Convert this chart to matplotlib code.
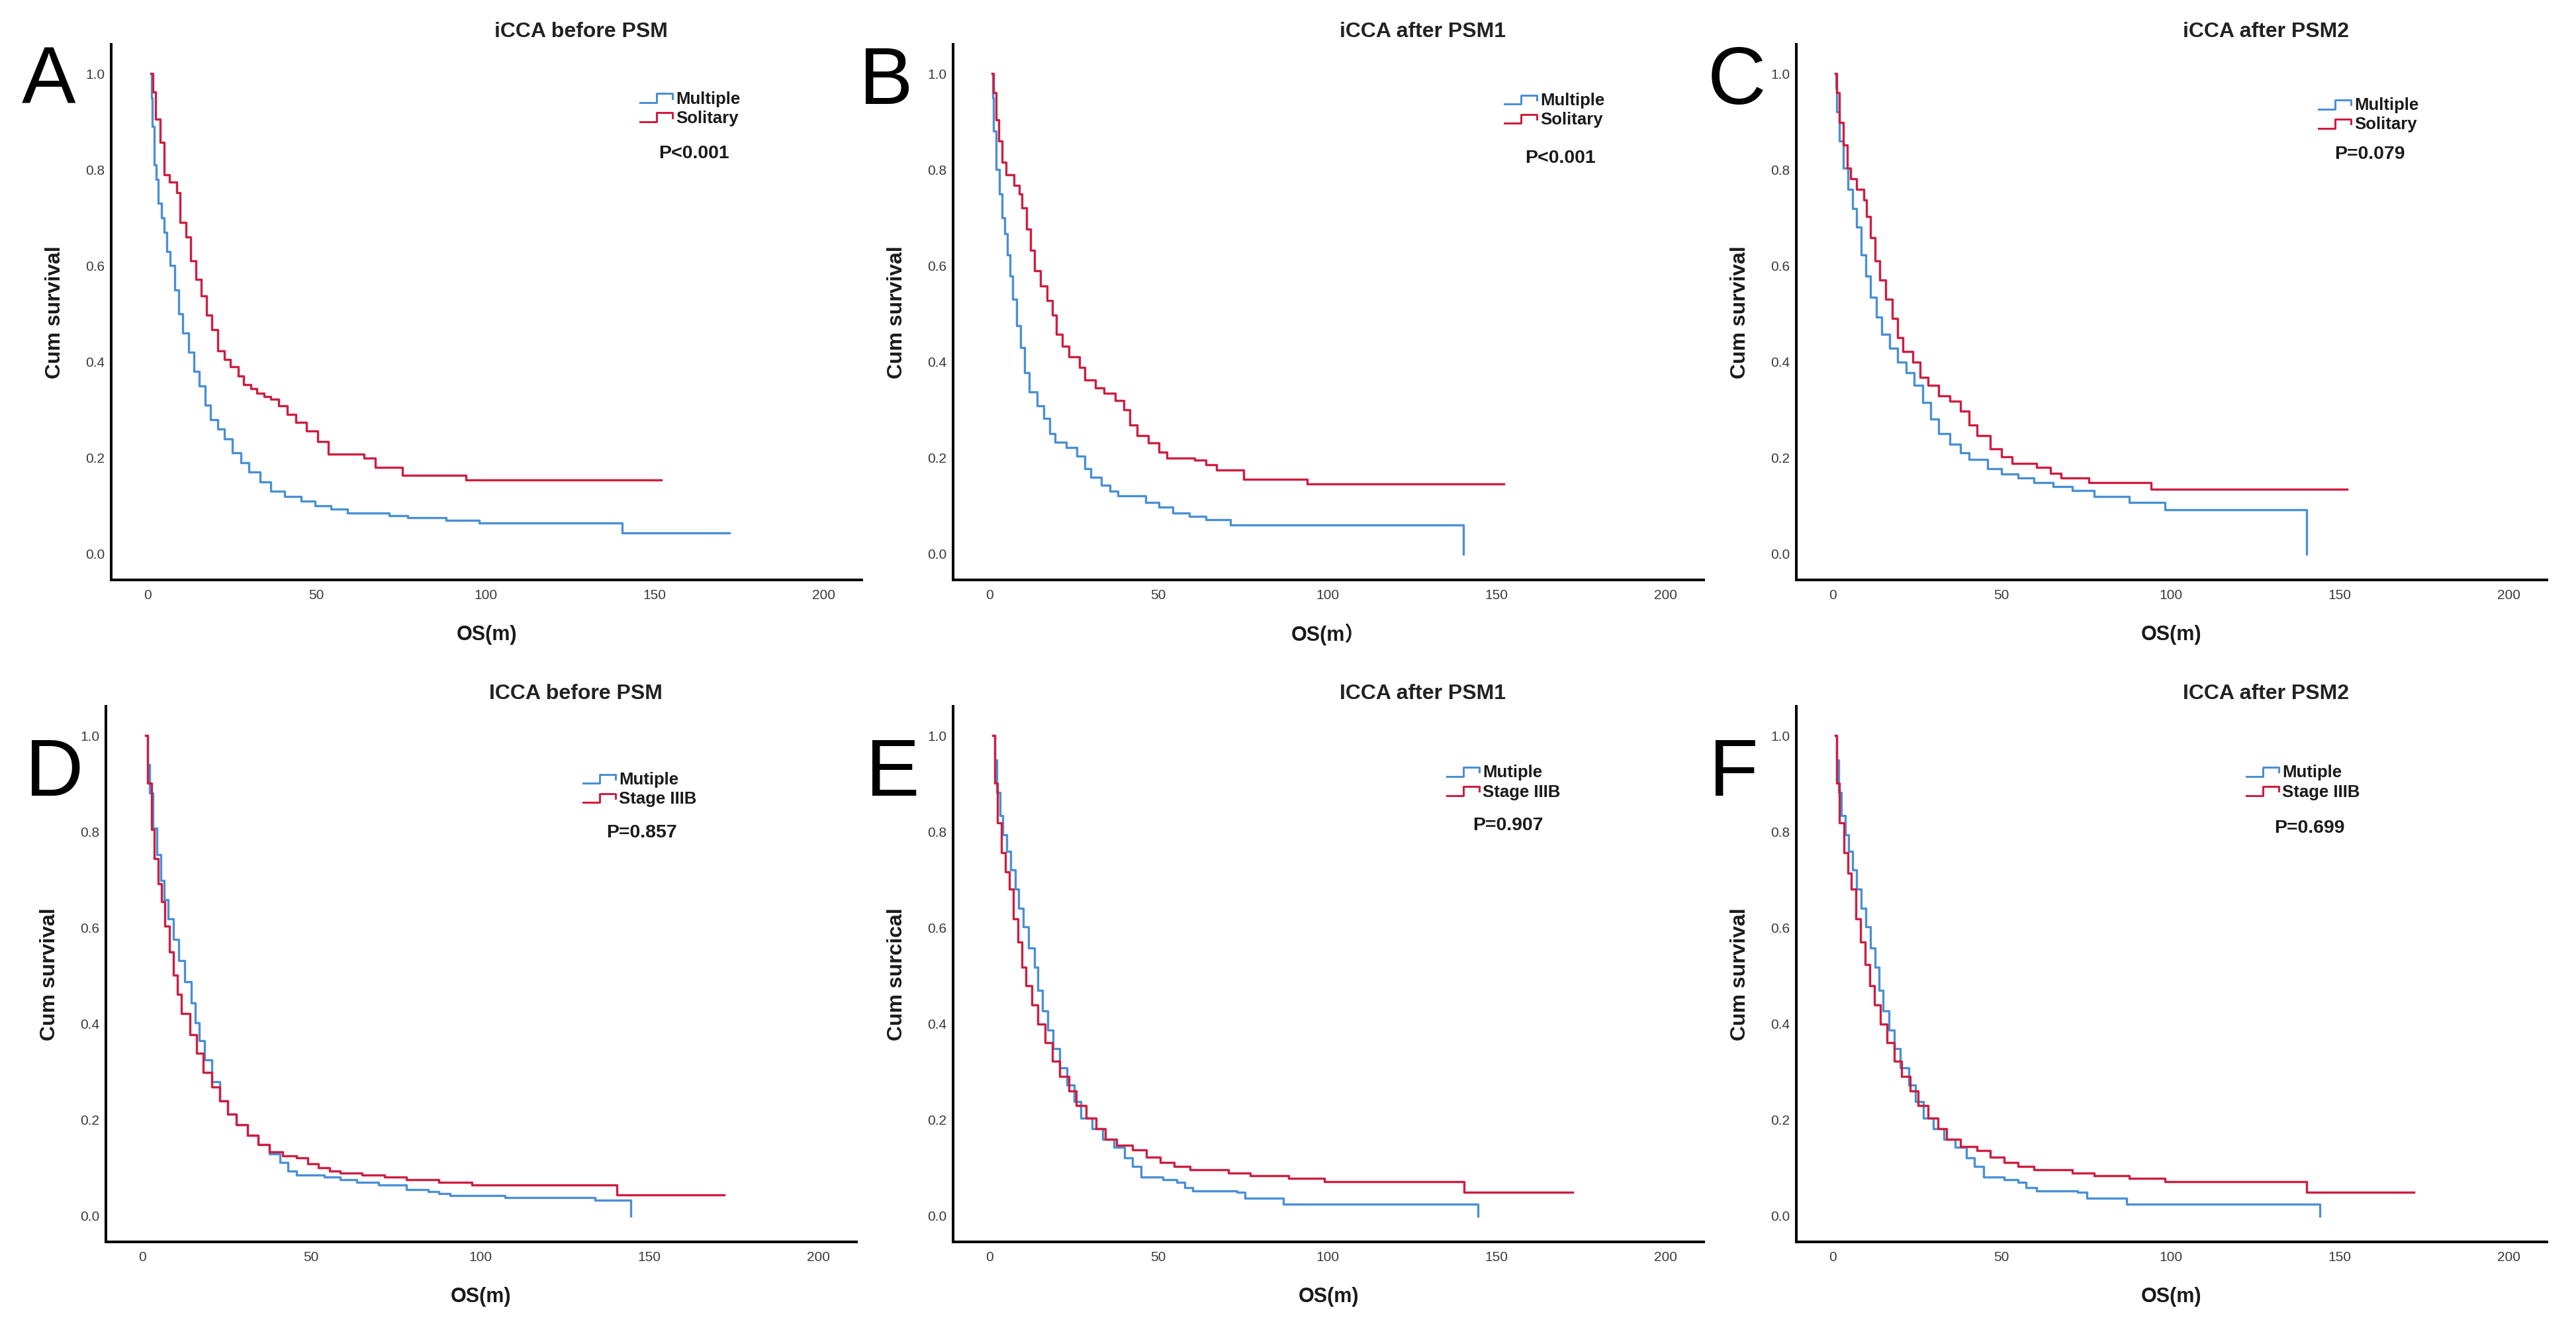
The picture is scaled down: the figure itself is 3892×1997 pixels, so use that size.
import matplotlib
matplotlib.use('Agg')
import matplotlib.pyplot as plt
from matplotlib.lines import Line2D
from matplotlib.legend_handler import HandlerBase
from matplotlib.ticker import FormatStrFormatter

plt.rcParams['font.family'] = ['Liberation Sans', 'Noto Sans CJK SC', 'DejaVu Sans']

# ---------------- data ----------------
x_ticks = [0, 50, 100, 150, 200]
y_ticks = [0.0, 0.2, 0.4, 0.6, 0.8, 1.0]

titles = ["iCCA before PSM", "iCCA after PSM1", "iCCA after PSM2",
          "ICCA before PSM", "ICCA after PSM1", "ICCA after PSM2"]
panel_letters = ["A", "B", "C", "D", "E", "F"]
y_labels = ["Cum survival", "Cum survival", "Cum survival",
            "Cum survival", "Cum surcical", "Cum survival"]
x_labels = ["OS(m)", "OS(m\uff09", "OS(m)", "OS(m)", "OS(m)", "OS(m)"]
blue_labels = ["Multiple", "Multiple", "Multiple", "Mutiple", "Mutiple", "Mutiple"]
red_labels = ["Solitary", "Solitary", "Solitary", "Stage IIIB", "Stage IIIB", "Stage IIIB"]
p_values = ["P<0.001", "P<0.001", "P=0.079", "P=0.857", "P=0.907", "P=0.699"]

# Panel A
a_multi_t = [1.0, 1.3, 1.5, 2.1, 2.6, 3.2, 4.2, 5.0, 5.8, 6.8, 8.1, 9.2, 10.5, 12.2, 13.8, 15.4, 17.0, 18.7,
             20.8, 22.7, 25.1, 27.6, 30.0, 33.3, 36.5, 40.6, 45.4, 49.5, 54.3, 59.2, 71.4, 77.0, 88.4, 98.1,
             140.3, 172.0]
a_multi_s = [1.0, 0.95, 0.89, 0.81, 0.78, 0.73, 0.70, 0.67, 0.63, 0.60, 0.55, 0.50, 0.46, 0.42, 0.38, 0.35, 0.31,
             0.28, 0.26, 0.24, 0.21, 0.19, 0.17, 0.15, 0.13, 0.12, 0.11, 0.10, 0.093, 0.085, 0.08, 0.075, 0.07,
             0.065, 0.044, 0.044]
a_sol_t = [1.0, 1.6, 2.4, 3.7, 4.9, 6.5, 8.6, 9.7, 11.4, 12.7, 14.3, 15.9, 17.5, 19.1, 20.8, 22.7, 24.5, 26.8,
           28.4, 30.5, 32.4, 34.5, 36.5, 38.9, 41.4, 43.8, 47.0, 50.3, 53.5, 64.1, 67.3, 75.4, 94.1, 152.0]
a_sol_s = [1.0, 0.962, 0.905, 0.857, 0.79, 0.774, 0.752, 0.69, 0.66, 0.61, 0.572, 0.537, 0.497, 0.467, 0.423,
           0.405, 0.39, 0.37, 0.353, 0.345, 0.335, 0.328, 0.322, 0.309, 0.29, 0.274, 0.256, 0.234, 0.208,
           0.199, 0.18, 0.164, 0.154, 0.154]

# Panel B
b_multi_t = [0.8, 1.0, 1.3, 2.1, 2.9, 3.7, 4.5, 5.3, 6.2, 7.0, 8.1, 9.2, 10.5, 11.8, 14.1, 16.2, 17.8, 19.4,
             22.7, 25.9, 28.3, 30.0, 33.2, 35.6, 38.1, 46.2, 50.2, 54.3, 59.1, 64.0, 71.3, 140.1]
b_multi_s = [1.0, 0.95, 0.88, 0.80, 0.75, 0.70, 0.667, 0.623, 0.579, 0.53, 0.475, 0.43, 0.377, 0.338, 0.309,
             0.282, 0.251, 0.232, 0.221, 0.204, 0.178, 0.16, 0.143, 0.13, 0.121, 0.107, 0.098, 0.085, 0.079,
             0.072, 0.061, 0.0]
b_sol_t = [0.8, 1.3, 2.1, 2.8, 3.7, 4.9, 7.3, 8.9, 9.7, 11.0, 12.1, 13.4, 15.1, 17.0, 18.6, 19.9, 21.5, 23.5,
           26.7, 28.3, 31.3, 34.0, 37.2, 39.7, 41.6, 43.7, 47.0, 50.2, 52.6, 60.7, 64.0, 67.2, 75.3, 93.9, 152.2]
b_sol_s = [1.0, 0.961, 0.904, 0.86, 0.816, 0.79, 0.768, 0.75, 0.72, 0.677, 0.632, 0.589, 0.558, 0.528, 0.497,
           0.458, 0.432, 0.41, 0.388, 0.362, 0.346, 0.335, 0.319, 0.30, 0.269, 0.247, 0.231, 0.212, 0.199,
           0.195, 0.186, 0.175, 0.155, 0.146, 0.146]

# Panel C
c_multi_t = [0.8, 1.0, 1.3, 2.1, 3.2, 4.5, 6.0, 7.2, 8.5, 9.8, 11.3, 12.9, 14.5, 16.9, 19.3, 21.7, 24.2, 26.6,
             29.0, 31.4, 34.6, 37.8, 40.3, 45.9, 49.9, 54.8, 59.6, 65.2, 70.9, 77.3, 87.8, 98.2, 140.1]
c_multi_s = [1.0, 0.97, 0.921, 0.86, 0.803, 0.759, 0.719, 0.68, 0.623, 0.579, 0.535, 0.493, 0.458, 0.428,
             0.399, 0.377, 0.351, 0.316, 0.281, 0.25, 0.228, 0.211, 0.197, 0.177, 0.167, 0.158, 0.149, 0.14,
             0.132, 0.12, 0.107, 0.092, 0.0]
c_sol_t = [0.8, 1.3, 2.1, 3.2, 4.3, 5.3, 7.2, 9.2, 10.1, 11.3, 12.6, 14.0, 15.8, 17.7, 19.3, 20.9, 23.7, 25.8,
           28.2, 31.4, 34.6, 37.8, 40.3, 42.7, 46.7, 49.9, 53.1, 60.4, 64.4, 67.6, 75.7, 94.2, 152.2]
c_sol_s = [1.0, 0.961, 0.899, 0.851, 0.803, 0.781, 0.759, 0.737, 0.702, 0.658, 0.61, 0.57, 0.53, 0.491, 0.451,
           0.421, 0.399, 0.368, 0.351, 0.329, 0.318, 0.298, 0.268, 0.246, 0.219, 0.202, 0.189, 0.18, 0.168,
           0.158, 0.149, 0.135, 0.135]

# Panel D
d_multi_t = [1.1, 1.6, 2.3, 3.2, 4.4, 5.5, 6.5, 7.6, 9.2, 10.9, 12.5, 14.6, 15.7, 16.8, 18.5, 20.6, 23.0, 25.4,
             27.9, 31.1, 34.3, 37.6, 40.8, 43.2, 45.7, 53.8, 58.6, 63.5, 70.0, 78.1, 84.5, 87.8, 91.0, 107.2,
             133.9, 144.5]
d_multi_s = [1.0, 0.94, 0.88, 0.807, 0.752, 0.698, 0.659, 0.619, 0.576, 0.532, 0.488, 0.444, 0.402, 0.365,
             0.325, 0.28, 0.239, 0.212, 0.19, 0.168, 0.149, 0.129, 0.112, 0.094, 0.085, 0.081, 0.075, 0.07,
             0.064, 0.055, 0.051, 0.046, 0.042, 0.038, 0.033, 0.0]
d_stage_t = [1.1, 1.6, 2.8, 3.6, 4.7, 5.7, 6.8, 8.1, 9.2, 10.5, 11.7, 14.1, 16.2, 18.1, 20.6, 23.0, 25.4, 27.9,
             31.1, 34.3, 37.6, 41.6, 45.7, 48.9, 52.1, 55.4, 58.6, 65.1, 71.6, 78.1, 87.8, 97.5, 140.4, 172.0]
d_stage_s = [1.0, 0.901, 0.805, 0.744, 0.691, 0.654, 0.604, 0.549, 0.501, 0.462, 0.422, 0.378, 0.339, 0.299,
             0.269, 0.239, 0.212, 0.19, 0.168, 0.149, 0.134, 0.125, 0.121, 0.108, 0.1, 0.094, 0.09, 0.085,
             0.081, 0.075, 0.07, 0.064, 0.044, 0.044]

# Panel E
e_multi_t = [1.1, 1.6, 2.3, 3.1, 4.0, 5.2, 6.3, 7.6, 8.7, 10.0, 11.7, 13.3, 14.4, 15.7, 17.3, 18.9, 20.9, 23.0,
             25.1, 27.0, 30.3, 33.5, 36.8, 40.0, 42.4, 44.9, 51.3, 55.4, 57.8, 60.2, 73.2, 75.6, 87.0, 144.5]
e_multi_s = [1.0, 0.95, 0.882, 0.834, 0.794, 0.759, 0.72, 0.68, 0.641, 0.602, 0.558, 0.518, 0.47, 0.427, 0.387,
             0.348, 0.308, 0.273, 0.238, 0.204, 0.182, 0.16, 0.143, 0.121, 0.103, 0.081, 0.075, 0.07, 0.059,
             0.052, 0.049, 0.037, 0.0245, 0.0]
e_stage_t = [1.1, 1.6, 2.4, 3.6, 4.7, 6.0, 7.1, 8.4, 9.6, 10.9, 12.5, 14.4, 16.5, 18.6, 20.9, 23.5, 25.7, 28.7,
             31.6, 34.3, 37.6, 42.4, 46.5, 50.5, 54.6, 59.4, 70.8, 77.2, 88.6, 99.1, 140.4, 172.5]
e_stage_s = [1.0, 0.901, 0.818, 0.757, 0.717, 0.68, 0.619, 0.571, 0.518, 0.479, 0.44, 0.40, 0.361, 0.322, 0.291,
             0.26, 0.23, 0.204, 0.182, 0.16, 0.147, 0.138, 0.122, 0.112, 0.103, 0.096, 0.09, 0.084, 0.079,
             0.072, 0.049, 0.049]

# Panel F
f_multi_t = [0.8, 1.3, 1.9, 2.7, 3.7, 4.8, 6.0, 7.2, 8.5, 9.8, 11.3, 12.6, 13.7, 15.0, 16.6, 18.2, 20.1, 22.5,
             24.6, 26.9, 29.8, 33.0, 36.2, 39.5, 41.9, 44.6, 50.7, 54.8, 57.2, 60.4, 72.5, 75.2, 87.0, 144.1]
f_multi_s = [1.0, 0.95, 0.882, 0.834, 0.794, 0.759, 0.72, 0.68, 0.641, 0.602, 0.558, 0.518, 0.47, 0.427, 0.387,
             0.348, 0.308, 0.273, 0.238, 0.204, 0.182, 0.16, 0.143, 0.121, 0.103, 0.081, 0.075, 0.07, 0.059,
             0.052, 0.049, 0.037, 0.0245, 0.0]
f_stage_t = [0.8, 1.3, 2.1, 3.4, 4.5, 5.6, 6.9, 8.2, 9.7, 11.0, 12.4, 14.2, 16.1, 18.2, 20.5, 23.0, 25.4, 28.2,
             31.1, 33.8, 37.8, 42.7, 46.7, 50.7, 54.8, 59.6, 70.9, 77.3, 87.8, 98.2, 140.1, 171.8]
f_stage_s = [1.0, 0.901, 0.818, 0.757, 0.713, 0.68, 0.619, 0.571, 0.523, 0.479, 0.44, 0.40, 0.361, 0.322, 0.291,
             0.26, 0.23, 0.204, 0.182, 0.16, 0.145, 0.136, 0.122, 0.112, 0.103, 0.096, 0.09, 0.084, 0.079,
             0.072, 0.049, 0.049]

blue_series = [(a_multi_t, a_multi_s), (b_multi_t, b_multi_s), (c_multi_t, c_multi_s),
               (d_multi_t, d_multi_s), (e_multi_t, e_multi_s), (f_multi_t, f_multi_s)]
red_series = [(a_sol_t, a_sol_s), (b_sol_t, b_sol_s), (c_sol_t, c_sol_s),
              (d_stage_t, d_stage_s), (e_stage_t, e_stage_s), (f_stage_t, f_stage_s)]

# ---------------- layout / style ----------------
W, H = 3892, 1997
BLUE = '#4a8fd6'
RED = '#cf1d40'
LW = 2.4

# axes rectangles in pixels: left, top, width, height
axes_px = [(168, 67), (1440, 67), (2714, 67), (160, 1067), (1440, 1067), (2714, 1067)]
AX_W, AX_H = 1134, 809
letter_px = [(33, 157), (1298, 157), (2580, 157), (38, 1202), (1308, 1202), (2582, 1202)]
# legend handle-left x, first-row y, p-value x, p-value y (axes fractions)
legend_pos = [(0.705, 0.895, 0.776, 0.796), (0.735, 0.892, 0.809, 0.787), (0.696, 0.883, 0.764, 0.795),
              (0.636, 0.860, 0.714, 0.764), (0.658, 0.873, 0.739, 0.778), (0.600, 0.873, 0.684, 0.773)]


class StepHandler(HandlerBase):
    def create_artists(self, legend, orig_handle, xdescent, ydescent, width, height, fontsize, trans):
        xs = [0, 0.5 * width, 0.5 * width, width, width]
        ys = [0.1 * height, 0.1 * height, 0.85 * height, 0.85 * height, 0.45 * height]
        line = Line2D([x - xdescent for x in xs], [y - ydescent for y in ys],
                      color=orig_handle.get_color(), lw=orig_handle.get_linewidth() * 0.9)
        line.set_transform(trans)
        return [line]


fig = plt.figure(figsize=(W / 100, H / 100), dpi=100)
fig.patch.set_facecolor('white')

for i in range(6):
    lx, ty = axes_px[i]
    ax = fig.add_axes([lx / W, (H - ty - AX_H) / H, AX_W / W, AX_H / H])
    bt, bs = blue_series[i]
    rt, rs = red_series[i]
    lb, = ax.step(bt, bs, where='post', color=BLUE, lw=LW, label=blue_labels[i])
    lr, = ax.step(rt, rs, where='post', color=RED, lw=LW, label=red_labels[i])

    ax.set_xlim(-10.7, 211.2)
    ax.set_ylim(-0.054, 1.061)
    ax.set_xticks(x_ticks)
    ax.set_yticks(y_ticks)
    ax.yaxis.set_major_formatter(FormatStrFormatter('%.1f'))
    for s in ['top', 'right']:
        ax.spines[s].set_visible(False)
    for s in ['left', 'bottom']:
        ax.spines[s].set_linewidth(2.9)
        ax.spines[s].set_color('black')
    ax.tick_params(axis='both', length=0, labelsize=15, labelcolor='#3a3a3a')
    ax.tick_params(axis='x', pad=10)
    ax.tick_params(axis='y', pad=7)

    ax.set_xlabel(x_labels[i], fontsize=22, fontweight='bold', color='#1a1a1a')
    ax.xaxis.set_label_coords(0.5, -0.102)
    ax.xaxis.label.set_va('center')
    ax.set_ylabel(y_labels[i], fontsize=23, fontweight='bold', color='#1a1a1a')
    ax.yaxis.set_label_coords(-0.075, 0.5)
    ax.yaxis.label.set_va('center')

    ax.set_title(titles[i], x=0.626, y=1.0235, pad=0, va='center',
                 fontsize=23, fontweight='bold', color='#222222')

    hx, hy, px, py = legend_pos[i]
    ax.legend(handles=[lb, lr], handler_map={Line2D: StepHandler()},
              loc='upper left', bbox_to_anchor=(hx, hy + 0.0177), frameon=False,
              prop={'weight': 'bold', 'size': 18.5}, labelcolor='#1a1a1a',
              handlelength=1.9, handletextpad=0.2, labelspacing=0.2,
              borderpad=0, borderaxespad=0)
    ax.text(px, py, p_values[i], transform=ax.transAxes, ha='center', va='center',
            fontsize=20.5, fontweight='bold', color='#1a1a1a')

    fx, fy = letter_px[i]
    fig.text(fx / W, 1 - fy / H, panel_letters[i], fontsize=88, ha='left', va='baseline', color='black')

fig.savefig('out.png', dpi=100, facecolor='white')
